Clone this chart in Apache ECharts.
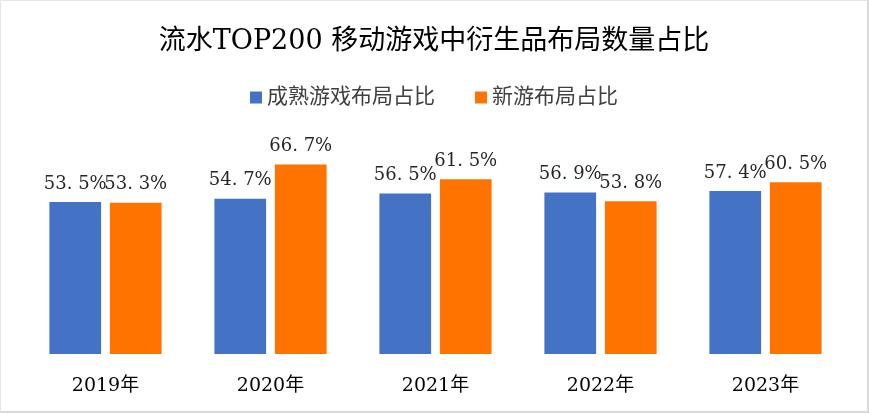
<!DOCTYPE html>
<html><head><meta charset="utf-8">
<script src="https://cdn.jsdelivr.net/npm/echarts@6/dist/echarts.min.js"></script>
<style>html,body{margin:0;padding:0;background:#fff}#c{width:869px;height:413px;box-sizing:border-box;border:2px solid #D9D9D9;border-top:1px solid #E6E6E6;border-left:1px solid #E6E6E6}</style>
</head><body><div id="c"></div>
<script>
const categories = ['2019年','2020年','2021年','2022年','2023年'];
const matureShare = [53.5, 54.7, 56.5, 56.9, 57.4];
const newShare = [53.3, 66.7, 61.5, 53.8, 60.5];
const seriesNames = ['成熟游戏布局占比','新游布局占比'];
const serif = '"DejaVu Serif","Noto Sans CJK SC",serif';
const chart = echarts.init(document.getElementById('c'));
const lbl = {show:true, position:'top', distance:9, fontFamily:serif, fontSize:18, color:'#262626', formatter: p => p.value.toFixed(1).replace('.', '. ') + '%'};
chart.setOption({
  animation:false,
  title:{text:'流水TOP200 移动游戏中衍生品布局数量占比', left:'center', top:22,
    textStyle:{fontFamily:serif, fontSize:27, fontWeight:'normal', color:'#000'}},
  legend:{top:81, left:'center', itemWidth:12, itemHeight:12, itemGap:40, icon:'rect',
    textStyle:{fontFamily:serif, fontSize:21, color:'#404040'}},
  grid:{left:22, right:19, top:69, bottom:57},
  xAxis:{type:'category', data:categories, axisLine:{show:false}, axisTick:{show:false},
    axisLabel:{fontFamily:serif, fontSize:19, color:'#000', margin:23}},
  yAxis:{type:'value', min:0, max:100, show:false},
  series:[
    {name:seriesNames[0], type:'bar', data:matureShare, itemStyle:{color:'#4472C4'}, barGap:'17%', barCategoryGap:'32%', label:lbl},
    {name:seriesNames[1], type:'bar', data:newShare, itemStyle:{color:'#FF7300'}, label:lbl}
  ]
});
</script></body></html>
